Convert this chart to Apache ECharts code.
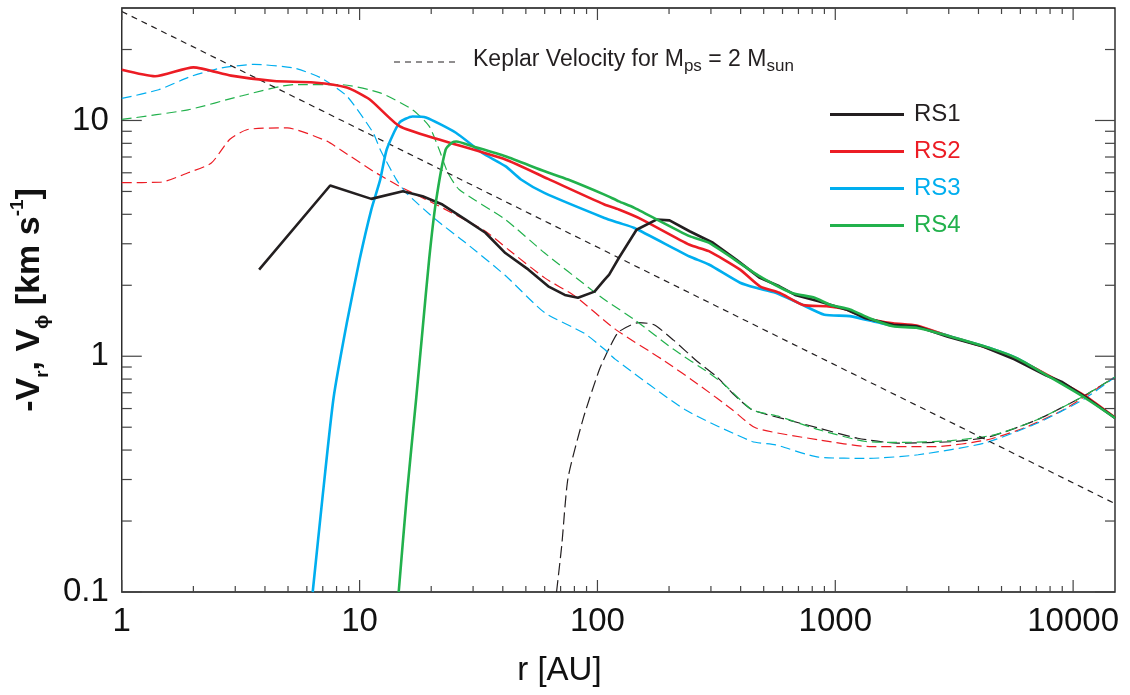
<!DOCTYPE html>
<html>
<head>
<meta charset="utf-8">
<script src="https://cdn.jsdelivr.net/npm/echarts@6/dist/echarts.min.js"></script>
<style>
  html, body { margin: 0; padding: 0; background: #ffffff; }
  #chart { width: 1130px; height: 695px; }
</style>
</head>
<body>
<div id="chart"></div>
<script>
// Radial velocity profiles of the four runs, log-log in r [AU].
const FONT = '"Liberation Sans", Arial, Helvetica, sans-serif';
const R_MIN = 1, R_MAX = 15000, V_MIN = 0.1, V_MAX = 30;

const xMajorTicks = [1, 10, 100, 1000, 10000];
const yMajorTicks = [0.1, 1, 10];

const runNames = ['RS1', 'RS2', 'RS3', 'RS4'];
const runColors = ['#231f20', '#ec1c24', '#00aeef', '#22b14c'];

// Solid curves: [r (AU), velocity (km/s)]
const rs1Solid = [
  [3.78, 2.33], [7.52, 5.3], [11.2, 4.65], [15.2, 5.01], [18.4, 4.77], [22.3, 4.4],
  [27.9, 3.8], [33.8, 3.34], [41, 2.74], [51.3, 2.33], [62.1, 1.98], [72.9, 1.82],
  [82.8, 1.77], [97.2, 1.88], [107, 2.11], [112, 2.22], [123, 2.61], [146, 3.44],
  [177, 3.8], [201, 3.77], [244, 3.39], [306, 3.03], [383, 2.57], [482, 2.15],
  [582, 1.98], [678, 1.82], [851, 1.71], [1110, 1.58], [1341, 1.45], [1749, 1.36],
  [2196, 1.34], [2975, 1.21], [4185, 1.1], [5665, 0.97], [7680, 0.83], [8930, 0.78],
  [11200, 0.675], [15000, 0.547]
];
const rs2Solid = [
  [1, 16.4], [1.38, 15.4], [2.0, 16.8], [2.88, 15.5], [4.37, 14.7], [6.41, 14.5],
  [8.83, 13.8], [11.0, 12.3], [14.7, 9.46], [21.6, 8.3], [41, 6.83], [62, 5.65],
  [107, 4.4], [123, 4.19], [154, 3.8], [244, 2.97], [294, 2.79], [398, 2.33],
  [482, 1.98], [582, 1.86], [732, 1.65], [918, 1.63], [1110, 1.58], [1393, 1.44],
  [1749, 1.38], [2196, 1.35], [2975, 1.22], [4185, 1.1], [5665, 0.98], [7680, 0.84],
  [11200, 0.68], [15000, 0.55]
];
const rs3Solid = [
  [6.35, 0.1], [7.0, 0.258], [7.77, 0.665], [8.83, 1.38], [10.0, 2.57], [11.2, 4.19],
  [12.2, 5.6], [13.0, 7.53], [14.7, 9.78], [16.7, 10.4], [19.0, 10.3], [25.4, 8.87],
  [32.7, 7.3], [41, 6.4], [47.7, 5.62], [59.8, 4.93], [107, 3.86], [123, 3.68],
  [143, 3.5], [244, 2.65], [294, 2.45], [398, 2.05], [464, 1.95], [561, 1.86],
  [703, 1.68], [900, 1.5], [1152, 1.48], [1559, 1.38], [1820, 1.34], [2230, 1.33],
  [3072, 1.21], [4510, 1.08], [5820, 0.98], [7760, 0.83]
];
const rs4Solid = [
  [14.6, 0.1], [15.8, 0.258], [17.3, 0.665], [18.4, 1.3], [19.6, 2.57], [20.9, 4.47],
  [23.0, 7.53], [24.6, 8.09], [25.5, 8.15], [29.8, 7.78], [41, 7.05], [60, 6.09],
  [75.2, 5.62], [107, 4.85], [123, 4.54], [143, 4.26], [244, 3.23], [294, 3.03],
  [482, 2.18], [652, 1.86], [819, 1.77], [955, 1.65], [1152, 1.58], [1393, 1.45],
  [1749, 1.34], [2196, 1.32], [3072, 1.21], [4510, 1.08], [5820, 0.98], [7760, 0.83],
  [11000, 0.675], [15000, 0.547]
];

// Dashed curves: [r (AU), velocity (km/s)]
const rs1Dashed = [
  [67.3, 0.1], [70.8, 0.158], [75.2, 0.304], [87.4, 0.55], [102, 0.88], [113, 1.1],
  [123, 1.27], [149, 1.39], [173, 1.36], [209, 1.17], [263, 0.95], [317, 0.82],
  [369, 0.698], [447, 0.593], [628, 0.538], [851, 0.496], [1242, 0.449], [1820, 0.428],
  [3210, 0.435], [4510, 0.457], [7060, 0.538], [11000, 0.675], [15000, 0.816]
];
const rs2Dashed = [
  [1, 5.45], [1.45, 5.47], [1.9, 6.0], [2.38, 6.6], [2.84, 8.3], [3.38, 9.16],
  [4.96, 9.3], [7.29, 8.17], [8.28, 7.53], [11.4, 6.1], [14.7, 5.26], [21.6, 4.33],
  [33.8, 3.39], [42.3, 2.83], [60, 2.15], [81, 1.79], [119, 1.3], [187, 0.97],
  [273, 0.744], [369, 0.593], [464, 0.496], [851, 0.442], [1393, 0.414], [2654, 0.414],
  [4346, 0.442], [6210, 0.496], [9100, 0.593], [15000, 0.816]
];
const rs3Dashed = [
  [1, 12.4], [1.43, 13.5], [1.96, 15.4], [2.62, 16.7], [3.6, 17.3], [5.29, 16.7],
  [6.84, 15.2], [8.83, 12.7], [11.4, 8.87], [12.2, 7.53], [14.3, 5.6], [15.7, 4.93],
  [20.9, 3.8], [27.9, 3.03], [41, 2.2], [60, 1.53], [88.2, 1.25], [107, 1.07],
  [119, 0.97], [234, 0.593], [447, 0.435], [561, 0.421], [851, 0.373], [1393, 0.369],
  [2230, 0.382], [4233, 0.428], [7060, 0.52], [11000, 0.654], [15000, 0.816]
];
const rs4Dashed = [
  [1, 10.1], [1.9, 11.1], [3.17, 12.7], [5.29, 14.2], [8.28, 14.2], [12.2, 13.1],
  [16.7, 11.1], [19.6, 9.46], [21.6, 7.53], [23.5, 6.0], [26.2, 5.1], [41, 3.8],
  [60, 2.74], [94, 1.92], [107, 1.74], [143, 1.43], [209, 1.07], [294, 0.85],
  [342, 0.757], [447, 0.593], [582, 0.555], [851, 0.488], [1341, 0.435], [1900, 0.431],
  [3072, 0.439], [4660, 0.464], [7060, 0.538], [11000, 0.675], [15000, 0.816]
];

// Keplerian velocity for a 2 M_sun protostar (straight line in log-log)
const keplerLine = [[1, 29], [15000, 0.237]];

// Minor tick positions at 2..9 times each decade
function minorTicks(decades, lo, hi) {
  const out = [];
  decades.forEach(function (d) {
    for (let m = 2; m <= 9; m++) {
      const v = m * d;
      if (v > lo && v < hi) out.push(v);
    }
  });
  return out;
}
const xMinorTicks = minorTicks(xMajorTicks, R_MIN, R_MAX);
const yMinorTicks = minorTicks(yMajorTicks, V_MIN, V_MAX);

const TICK_COLOR = '#444444';
const xTickData = xMajorTicks.map(v => [v, 12]).concat(xMinorTicks.map(v => [v, 6]));
const yTickData = yMajorTicks.map(v => [20, v]).concat(yMinorTicks.map(v => [10, v]));

function renderXTick(params, api) {
  const v = api.value(0), len = api.value(1);
  const b = api.coord([v, V_MIN]);
  const t = api.coord([v, V_MAX]);
  const st = { stroke: TICK_COLOR, lineWidth: 1.2 };
  return { type: 'group', children: [
    { type: 'line', shape: { x1: b[0], y1: b[1], x2: b[0], y2: b[1] - len }, style: st },
    { type: 'line', shape: { x1: t[0], y1: t[1], x2: t[0], y2: t[1] + len }, style: st }
  ] };
}
function renderYTick(params, api) {
  const len = api.value(0), v = api.value(1);
  const l = api.coord([R_MIN, v]);
  const r = api.coord([R_MAX, v]);
  const st = { stroke: TICK_COLOR, lineWidth: 1.2 };
  return { type: 'group', children: [
    { type: 'line', shape: { x1: l[0], y1: l[1], x2: l[0] + len, y2: l[1] }, style: st },
    { type: 'line', shape: { x1: r[0], y1: r[1], x2: r[0] - len, y2: r[1] }, style: st }
  ] };
}

function decadeLabel(v) {
  const e = Math.log10(v);
  if (Math.abs(e - Math.round(e)) > 1e-6) return '';
  return String(+Math.pow(10, Math.round(e)).toPrecision(6));
}

function solidSeries(name, data, color, smooth) {
  return { name: name, type: 'line', data: data, showSymbol: false, symbol: 'none',
    clip: true, smooth: smooth,
    lineStyle: { color: color, width: 2.6 }, itemStyle: { color: color } };
}
function dashedSeries(name, data, color, dash, smooth) {
  return { name: name, type: 'line', data: data, showSymbol: false, symbol: 'none',
    clip: true, smooth: smooth,
    lineStyle: { color: color, width: 1.2, type: dash }, itemStyle: { color: color } };
}

const chart = echarts.init(document.getElementById('chart'), null, { renderer: 'canvas' });
chart.setOption({
  animation: false,
  backgroundColor: '#ffffff',
  grid: { left: 113, right: 15, top: 8, bottom: 103, show: true,
    borderColor: '#111111', borderWidth: 1.3, backgroundColor: 'transparent' },
  xAxis: {
    type: 'log', logBase: 10, min: R_MIN, max: R_MAX,
    axisLine: { show: false }, axisTick: { show: false }, splitLine: { show: false },
    axisLabel: { formatter: decadeLabel, fontFamily: FONT, fontSize: 33, color: '#111111', margin: 13 },
    name: 'r [AU]', nameLocation: 'middle', nameGap: 62,
    nameTextStyle: { fontFamily: FONT, fontSize: 33, color: '#111111', padding: [0, 118, 0, 0] }
  },
  yAxis: {
    type: 'log', logBase: 10, min: V_MIN, max: V_MAX,
    axisLine: { show: false }, axisTick: { show: false }, splitLine: { show: false },
    axisLabel: { formatter: decadeLabel, fontFamily: FONT, fontSize: 33, color: '#111111', margin: 13 },
    name: '-V{s|r}, V{s|ϕ} [km s{p|-1}]', nameLocation: 'middle', nameRotate: 90, nameGap: 60,
    nameTextStyle: {
      fontFamily: FONT, fontSize: 34, fontWeight: 'bold', color: '#111111', lineHeight: 44,
      rich: {
        s: { fontFamily: FONT, fontSize: 19, lineHeight: 27, verticalAlign: 'bottom', color: '#111111' },
        p: { fontFamily: FONT, fontSize: 19, lineHeight: 34, verticalAlign: 'top', color: '#111111' }
      }
    }
  },
  legend: {
    orient: 'vertical', left: 825, top: 96, itemWidth: 74, itemHeight: 3, icon: 'rect',
    itemGap: 10, selectedMode: false,
    textStyle: { fontFamily: FONT, fontSize: 24, lineHeight: 27, padding: [0, 0, 0, 5] },
    data: runNames.map((n, i) => ({ name: n, textStyle: { color: runColors[i] } }))
  },
  graphic: [
    { type: 'line', shape: { x1: 394, y1: 62, x2: 460, y2: 62 },
      style: { stroke: '#231f20', lineWidth: 1.2, lineDash: [6, 5] } },
    { type: 'text', x: 473, y: 59.5,
      style: { text: 'Keplar Velocity for M{s|ps} = 2 M{s|sun}', fill: '#231f20',
        fontFamily: FONT, fontSize: 23, lineHeight: 30, verticalAlign: 'middle', align: 'left',
        rich: { s: { fontFamily: FONT, fontSize: 17, lineHeight: 22, verticalAlign: 'bottom', fill: '#231f20' } } } }
  ],
  series: [
    dashedSeries('RS1 dashed', rs1Dashed, runColors[0], [12, 5], 0.2),
    dashedSeries('RS2 dashed', rs2Dashed, runColors[1], [10, 5], 0.2),
    dashedSeries('RS3 dashed', rs3Dashed, runColors[2], [10, 5], 0.2),
    dashedSeries('RS4 dashed', rs4Dashed, runColors[3], [10, 5], 0.2),
    dashedSeries('Kepler', keplerLine, '#231f20', [6, 5], false),
    solidSeries('RS3', rs3Solid, runColors[2], 0.2),
    solidSeries('RS2', rs2Solid, runColors[1], 0.2),
    solidSeries('RS1', rs1Solid, runColors[0], false),
    solidSeries('RS4', rs4Solid, runColors[3], 0.2),
    { name: 'x ticks', type: 'custom', data: xTickData, renderItem: renderXTick, clip: false, silent: true, z: 5 },
    { name: 'y ticks', type: 'custom', data: yTickData, renderItem: renderYTick, clip: false, silent: true, z: 5 }
  ]
});
</script>
</body>
</html>
